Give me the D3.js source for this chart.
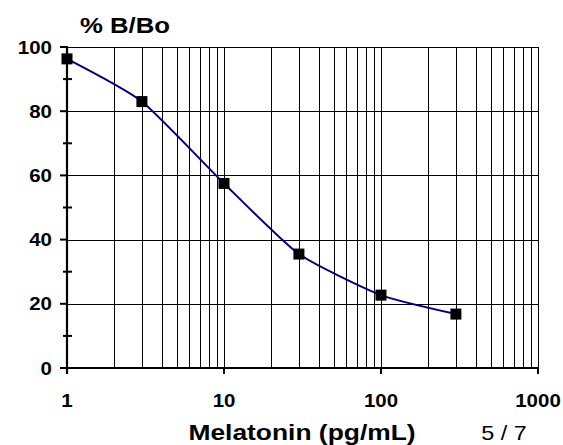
<!DOCTYPE html>
<html><head><meta charset="utf-8">
<script src="https://cdn.jsdelivr.net/npm/d3@7"></script>
<style>body{margin:0;background:#fff}svg{display:block}text{font-family:"Liberation Sans",Arial,sans-serif}</style>
</head><body>
<script>
const concentrations = [1, 3, 10, 30, 100, 300];
const percentBBo = [96.3, 83.0, 57.5, 35.5, 22.7, 16.8];
const xTickValues = [1, 10, 100, 1000];
const xTickLabels = ["1", "10", "100", "1000"];
const yTickValues = [0, 20, 40, 60, 80, 100];
const yTickLabels = ["0", "20", "40", "60", "80", "100"];
const yMinorTicks = [10, 30, 50, 70, 90];

const W = 563, H = 445;
const L = 67, R = 538, T = 47, B = 368;
const SX = 1.17;

const svg = d3.select("body").append("svg").attr("width", W).attr("height", H);
const x = d3.scaleLog().domain([1, 1000]).range([L, R]);
const y = d3.scaleLinear().domain([0, 100]).range([B, T]);

// vertical minor/major gridlines
const vGrid = [];
for (let d = 1; d < 1000; d *= 10) for (let k = 1; k <= 10; k++) vGrid.push(d * k);
svg.append("g").selectAll("line").data(vGrid.filter(v => v > 1)).join("line")
  .attr("x1", d => Math.round(x(d)) + 0.5).attr("x2", d => Math.round(x(d)) + 0.5)
  .attr("y1", T).attr("y2", B).attr("stroke", "#000").attr("stroke-width", 1);

// horizontal gridlines
svg.append("g").selectAll("line").data(yTickValues.filter(v => v > 0)).join("line")
  .attr("x1", L).attr("x2", R)
  .attr("y1", d => Math.round(y(d)) + 0.5).attr("y2", d => Math.round(y(d)) + 0.5)
  .attr("stroke", "#000").attr("stroke-width", 1);

// y axis
svg.append("line").attr("x1", L).attr("x2", L).attr("y1", T - 1).attr("y2", B + 6)
  .attr("stroke", "#000").attr("stroke-width", 2.2);
svg.append("g").selectAll("line").data(yTickValues).join("line")
  .attr("x1", L - 7).attr("x2", L).attr("y1", d => y(d)).attr("y2", d => y(d))
  .attr("stroke", "#000").attr("stroke-width", 2);
svg.append("g").selectAll("line").data(yMinorTicks).join("line")
  .attr("x1", L - 4).attr("x2", L + 5).attr("y1", d => y(d)).attr("y2", d => y(d))
  .attr("stroke", "#000").attr("stroke-width", 2);

// x axis
svg.append("line").attr("x1", L - 7).attr("x2", R).attr("y1", B).attr("y2", B)
  .attr("stroke", "#000").attr("stroke-width", 2.2);
svg.append("g").selectAll("line").data(xTickValues).join("line")
  .attr("x1", d => x(d)).attr("x2", d => x(d)).attr("y1", B).attr("y2", B + 6)
  .attr("stroke", "#000").attr("stroke-width", 2);

// tick labels
svg.append("g").selectAll("text").data(yTickValues).join("text")
  .attr("transform", d => `translate(52,${y(d) + 6.5}) scale(${SX},1)`)
  .attr("text-anchor", "end").attr("font-weight", "bold").attr("font-size", 17.5)
  .text((d, i) => yTickLabels[i]);
svg.append("g").selectAll("text").data(xTickValues).join("text")
  .attr("transform", d => `translate(${x(d)},407) scale(${SX},1)`)
  .attr("text-anchor", "middle").attr("font-weight", "bold").attr("font-size", 17.5)
  .text((d, i) => xTickLabels[i]);

// line
const pts = concentrations.map((c, i) => [x(c), y(percentBBo[i])]);
svg.append("path").attr("d", d3.line().curve(d3.curveCardinal.tension(0.45))(pts))
  .attr("fill", "none").attr("stroke", "#000080").attr("stroke-width", 2);

// markers
const ms = 11;
svg.append("g").selectAll("rect").data(pts).join("rect")
  .attr("x", d => d[0] - ms / 2).attr("y", d => d[1] - ms / 2)
  .attr("width", ms).attr("height", ms).attr("fill", "#000");

// titles
svg.append("text").attr("transform", `translate(125,33) scale(${SX},1)`)
  .attr("text-anchor", "middle").attr("font-weight", "bold").attr("font-size", 22).text("% B/Bo");
svg.append("text").attr("transform", `translate(302,440) scale(1.2,1)`)
  .attr("text-anchor", "middle").attr("font-weight", "bold").attr("font-size", 22).text("Melatonin (pg/mL)");
svg.append("text").attr("transform", `translate(504,440) scale(${SX},1)`)
  .attr("text-anchor", "middle").attr("font-size", 20).text("5 / 7");
</script>
</body></html>
